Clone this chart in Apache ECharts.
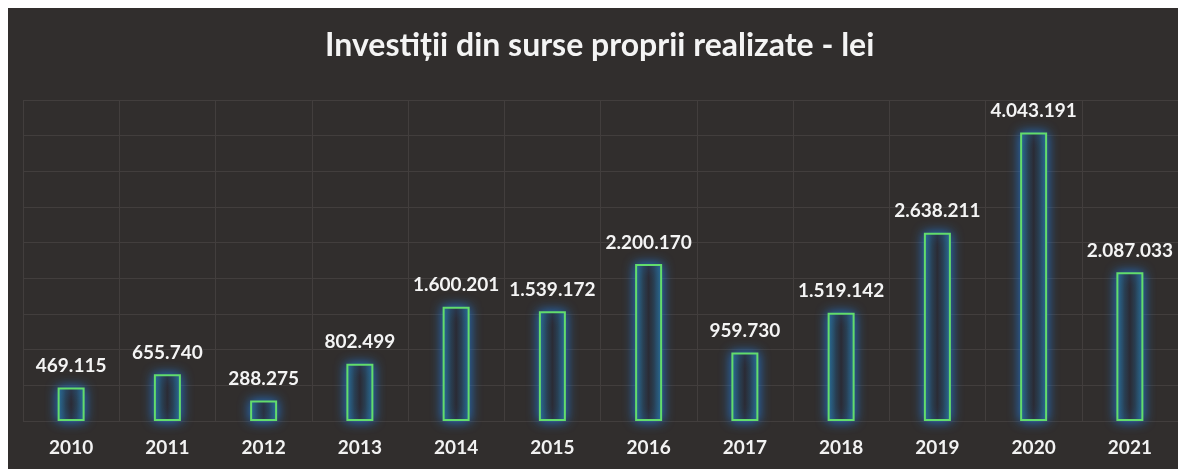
<!DOCTYPE html>
<html>
<head>
<meta charset="utf-8">
<script src="https://cdn.jsdelivr.net/npm/echarts@6/dist/echarts.min.js"></script>
<style>
  html, body { margin: 0; padding: 0; background: #ffffff; }
  #chart { position: absolute; left: 8px; top: 8px; width: 1170px; height: 461px; }
</style>
</head>
<body>
<div id="chart"></div>
<script>
const years = ['2010', '2011', '2012', '2013', '2014', '2015', '2016', '2017', '2018', '2019', '2020', '2021'];
const investments = [469115, 655740, 288275, 802499, 1600201, 1539172, 2200170, 959730, 1519142, 2638211, 4043191, 2087033];
const chartTitle = 'Investiții din surse proprii realizate - lei';

// thousands separated with dots, as in the romanian original
const fmt = v => String(v).replace(/\B(?=(\d{3})+(?!\d))/g, '.');

const chart = echarts.init(document.getElementById('chart'), null, { renderer: 'canvas' });

chart.setOption({
  backgroundColor: '#312e2d',
  animation: false,
  title: {
    text: chartTitle,
    left: 312,
    top: 17,
    textStyle: {
      color: '#f4f4f4',
      fontFamily: 'Lato',
      fontWeight: 'bold',
      fontSize: 32
    }
  },
  grid: {
    left: 15,
    right: -12,
    top: 92,
    bottom: 48,
    containLabel: false
  },
  xAxis: {
    type: 'category',
    data: years,
    boundaryGap: true,
    axisLine: { show: false },
    axisTick: { show: false },
    axisLabel: {
      color: '#f2f2f2',
      fontFamily: 'Lato',
      fontWeight: 'bold',
      fontSize: 19,
      margin: 17
    },
    splitLine: {
      show: true,
      interval: 0,
      lineStyle: { color: '#423e3d', width: 1 }
    }
  },
  yAxis: {
    type: 'value',
    min: 0,
    max: 4500000,
    interval: 500000,
    axisLabel: { show: false },
    axisLine: { show: false },
    axisTick: { show: false },
    splitLine: { lineStyle: { color: '#423e3d', width: 1 } }
  },
  series: [{
    type: 'bar',
    data: investments,
    barWidth: 27,
    itemStyle: {
      color: new echarts.graphic.LinearGradient(0, 0, 1, 0, [
        { offset: 0, color: '#2b6f92' },
        { offset: 0.3, color: '#2a3d4c' },
        { offset: 0.5, color: '#2c2a32' },
        { offset: 0.7, color: '#2a3d4c' },
        { offset: 1, color: '#2b6f92' }
      ]),
      borderColor: '#62dc6c',
      borderWidth: 2,
      shadowColor: 'rgba(35, 120, 215, 0.95)',
      shadowBlur: 12
    },
    label: {
      show: true,
      position: 'top',
      distance: 12,
      color: '#f4f4f4',
      fontFamily: 'Lato',
      fontWeight: 'bold',
      fontSize: 19,
      formatter: p => fmt(p.value)
    }
  }]
});
</script>
</body>
</html>
